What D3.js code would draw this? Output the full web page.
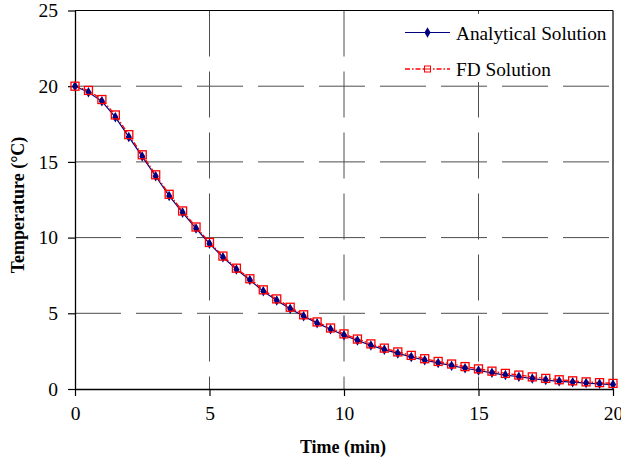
<!DOCTYPE html>
<html>
<head>
<meta charset="utf-8">
<script src="https://cdn.jsdelivr.net/npm/d3@7"></script>
<style>
  body { margin: 0; background: #fff; }
  svg { display: block; }
</style>
</head>
<body>
<svg id="chart" width="621" height="463"></svg>
<script>
// time steps (min)
var times = [0, 0.5, 1, 1.5, 2, 2.5, 3, 3.5, 4, 4.5, 5, 5.5, 6, 6.5, 7, 7.5, 8, 8.5, 9, 9.5,
    10, 10.5, 11, 11.5, 12, 12.5, 13, 13.5, 14, 14.5, 15, 15.5, 16, 16.5, 17, 17.5, 18, 18.5, 19, 19.5, 20];

var analytical = [20, 19.6, 19.0, 17.95, 16.65, 15.35, 14.05, 12.75, 11.65, 10.6, 9.6, 8.7, 7.9, 7.2,
    6.45, 5.85, 5.3, 4.8, 4.35, 3.95, 3.55, 3.2, 2.88, 2.6, 2.35, 2.12, 1.9, 1.72, 1.54, 1.37,
    1.22, 1.07, 0.92, 0.81, 0.69, 0.59, 0.51, 0.45, 0.39, 0.34, 0.29];

var fd = [20, 19.72, 19.12, 18.1, 16.8, 15.47, 14.15, 12.86, 11.76, 10.7, 9.68, 8.78, 7.98, 7.28,
    6.55, 5.95, 5.4, 4.9, 4.43, 4.03, 3.64, 3.3, 2.98, 2.7, 2.45, 2.22, 2.0, 1.82, 1.65, 1.48,
    1.33, 1.18, 1.03, 0.92, 0.8, 0.7, 0.61, 0.54, 0.47, 0.42, 0.37];

var xTicks = [0, 5, 10, 15, 20];
var yTicks = [0, 5, 10, 15, 20, 25];

var svg = d3.select("#chart");
var plotLeft = 75, plotRight = 613, plotTop = 10.5, plotBottom = 389;

var x = d3.scaleLinear().domain([0, 20]).range([plotLeft, plotRight]);
var y = d3.scaleLinear().domain([0, 25]).range([plotBottom, plotTop]);

// gridlines
svg.append("g").selectAll("line")
    .data(yTicks.filter(function (d) { return d > 0 && d < 25; }))
    .enter().append("line")
    .attr("x1", plotLeft).attr("x2", plotRight)
    .attr("y1", function (d) { return y(d); }).attr("y2", function (d) { return y(d); })
    .attr("stroke", "#4d4d4d").attr("stroke-width", 1)
    .attr("stroke-dasharray", "46,15");

svg.append("g").selectAll("line")
    .data(xTicks.filter(function (d) { return d > 0 && d < 20; }))
    .enter().append("line")
    .attr("y1", plotTop).attr("y2", plotBottom)
    .attr("x1", function (d) { return x(d); }).attr("x2", function (d) { return x(d); })
    .attr("stroke", "#4d4d4d").attr("stroke-width", 1)
    .attr("stroke-dasharray", "46,15");

// plot frame top / right
svg.append("line").attr("x1", plotLeft).attr("x2", plotRight).attr("y1", plotTop).attr("y2", plotTop)
    .attr("stroke", "#000").attr("stroke-width", 1.2);
svg.append("line").attr("x1", plotRight).attr("x2", plotRight).attr("y1", plotTop).attr("y2", plotBottom)
    .attr("stroke", "#000").attr("stroke-width", 1.2);

// axes
var xAxis = svg.append("g").attr("transform", "translate(0," + plotBottom + ")")
    .call(d3.axisBottom(x).tickValues(xTicks).tickSize(7).tickSizeOuter(0).tickPadding(20));
var yAxis = svg.append("g").attr("transform", "translate(" + plotLeft + ",0)")
    .call(d3.axisLeft(y).tickValues(yTicks).tickSize(7).tickSizeOuter(0).tickPadding(10));

[xAxis, yAxis].forEach(function (a) {
    a.select(".domain").attr("stroke", "#000").attr("stroke-width", 1.3);
    a.selectAll(".tick line").attr("stroke", "#000").attr("stroke-width", 1.2);
    a.selectAll("text").attr("font-family", "Liberation Serif, Times New Roman, serif")
        .attr("font-size", 19.5).attr("fill", "#000");
});
xAxis.selectAll("text").attr("dy", "0.2em");

// series
var line = d3.line()
    .x(function (d, i) { return x(times[i]); })
    .y(function (d) { return y(d); });

svg.append("path").datum(analytical)
    .attr("d", line).attr("fill", "none")
    .attr("stroke", "#000080").attr("stroke-width", 1.2);

svg.append("path").datum(fd)
    .attr("d", line).attr("fill", "none")
    .attr("stroke", "#ff0000").attr("stroke-width", 1.3)
    .attr("stroke-dasharray", "5,2,1.5,2");

var diamond = d3.symbol().type(d3.symbolDiamond).size(32);

svg.append("g").selectAll("path")
    .data(analytical).enter().append("path")
    .attr("d", diamond)
    .attr("transform", function (d, i) { return "translate(" + x(times[i]) + "," + y(d) + ")"; })
    .attr("fill", "#000080");

svg.append("g").selectAll("rect")
    .data(fd).enter().append("rect")
    .attr("x", function (d, i) { return x(times[i]) - 4; })
    .attr("y", function (d) { return y(d) - 4; })
    .attr("width", 8).attr("height", 8)
    .attr("fill", "none").attr("stroke", "#ff0000").attr("stroke-width", 1.3);

// legend
var legend = svg.append("g");
legend.append("rect").attr("x", 398).attr("y", 14).attr("width", 213).attr("height", 68)
    .attr("fill", "#fff");

var lx1 = 405, lx2 = 450;
legend.append("line").attr("x1", lx1).attr("x2", lx2).attr("y1", 32.5).attr("y2", 32.5)
    .attr("stroke", "#000080").attr("stroke-width", 1.2);
legend.append("path").attr("d", diamond)
    .attr("transform", "translate(" + ((lx1 + lx2) / 2) + ",32.5)").attr("fill", "#000080");
legend.append("line").attr("x1", lx1).attr("x2", lx2).attr("y1", 69).attr("y2", 69)
    .attr("stroke", "#ff0000").attr("stroke-width", 1.3).attr("stroke-dasharray", "5,2,1.5,2");
legend.append("rect").attr("x", (lx1 + lx2) / 2 - 3).attr("y", 66).attr("width", 6).attr("height", 6)
    .attr("fill", "#fff").attr("stroke", "#ff0000").attr("stroke-width", 1);
legend.append("line").attr("x1", (lx1 + lx2) / 2 - 3).attr("x2", (lx1 + lx2) / 2 + 3)
    .attr("y1", 69).attr("y2", 69).attr("stroke", "#ff0000").attr("stroke-width", 1);

legend.selectAll("text")
    .data(["Analytical Solution", "FD Solution"])
    .enter().append("text")
    .attr("x", 456)
    .attr("y", function (d, i) { return i === 0 ? 39.5 : 76; })
    .attr("font-family", "Liberation Serif, Times New Roman, serif")
    .attr("font-size", 19.3)
    .text(function (d) { return d; });

// axis titles
svg.append("text")
    .attr("x", 343).attr("y", 453)
    .attr("text-anchor", "middle")
    .attr("font-family", "Liberation Serif, Times New Roman, serif")
    .attr("font-size", 18).attr("font-weight", "bold")
    .text("Time (min)");

svg.append("text")
    .attr("transform", "translate(24,205) rotate(-90)")
    .attr("text-anchor", "middle")
    .attr("font-family", "Liberation Serif, Times New Roman, serif")
    .attr("font-size", 18).attr("font-weight", "bold")
    .text("Temperature (°C)");
</script>
</body>
</html>
